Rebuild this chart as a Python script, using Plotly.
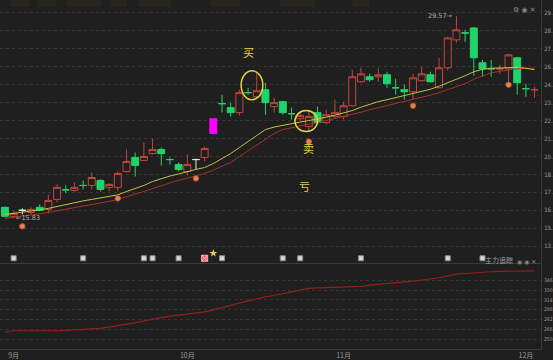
import plotly.graph_objects as go

# ---------------- data ----------------
idx = list(range(62))
opens  = [16.58,15.97,16.38,16.24,16.58,16.44,17.12,17.77,17.73,18.07,18.07,18.41,17.94,17.94,19.02,19.97,19.77,20.24,20.51,19.83,
          19.49,19.02,19.83,19.97,21.60,23.63,23.36,23.02,24.38,24.10,24.58,23.43,23.77,22.95,22.61,22.07,23.02,22.34,22.75,22.75,
          23.49,25.12,25.46,25.46,25.60,24.71,24.58,24.44,25.19,25.60,24.71,26.07,27.97,28.44,28.78,26.41,26.00,26.00,26.00,26.75,
          24.65,24.58]
highs  = [16.65,16.31,16.51,16.58,16.78,17.46,18.14,18.07,18.27,18.41,18.95,18.48,18.21,19.02,20.51,20.31,20.99,21.26,20.65,19.97,
          19.63,20.17,19.90,20.71,22.61,24.24,23.70,24.58,24.71,25.73,25.05,24.04,23.83,23.36,23.02,23.16,23.43,23.22,23.90,23.77,
          25.94,26.07,25.66,26.07,25.80,25.33,24.92,25.66,26.14,25.80,26.75,28.17,29.57,28.65,28.85,26.61,26.61,26.27,27.02,26.82,
          24.99,24.78]
lows   = [15.90,15.83,16.10,16.10,16.31,16.17,16.92,17.53,17.66,17.80,17.80,17.66,17.66,17.66,18.95,18.68,19.77,20.17,19.43,19.49,
          19.02,18.75,19.16,19.70,21.60,23.02,22.75,22.82,24.24,24.10,22.88,23.02,22.88,22.55,22.48,21.80,22.21,22.21,22.68,22.55,
          23.43,25.05,25.12,25.12,24.71,24.24,23.90,23.90,25.12,25.05,24.71,25.87,27.77,27.83,25.53,25.46,25.46,25.66,25.12,24.24,
          24.10,24.04]
closes = [15.97,16.17,16.38,16.44,16.38,17.05,17.94,17.77,17.94,18.07,18.61,17.80,18.14,18.88,19.70,19.43,20.04,20.51,20.24,19.83,
          19.16,19.49,19.83,20.58,22.61,23.63,23.02,24.38,24.38,24.51,23.70,23.70,23.02,22.95,22.82,22.75,22.34,22.88,23.02,23.49,
          25.46,25.66,25.26,25.60,24.99,24.71,24.44,25.39,25.66,25.12,26.07,28.10,28.65,28.44,26.75,26.00,26.00,26.00,26.95,25.05,
          24.65,24.58]
# r = red (up, hollow), g = green (down), w = white doji, m = magenta
kind = ['g','r','w','r','g','r','r','g','r','g','r','g','r','r','r','g','r','r','g','g',
        'g','r','w','r','m','g','g','r','g','r','g','r','g','g','r','r','g','r','r','r',
        'r','r','g','r','g','g','g','r','r','g','r','r','r','g','g','g','g','r','r','g',
        'g','r']

ma_yellow = [16.10,16.17,16.24,16.31,16.41,16.51,16.65,16.78,16.92,17.02,17.12,17.22,17.32,17.43,17.66,17.87,18.07,18.34,18.55,18.71,
             18.85,19.02,19.16,19.29,19.56,19.90,20.24,20.65,21.05,21.46,21.87,22.04,22.17,22.27,22.38,22.48,22.58,22.71,22.85,22.99,
             23.16,23.39,23.60,23.77,23.90,24.04,24.14,24.31,24.44,24.61,24.82,25.05,25.33,25.53,25.80,25.97,26.04,26.07,26.10,26.10,
             26.04,25.94]
ma_red = [15.83,15.90,15.97,16.04,16.14,16.24,16.34,16.44,16.58,16.68,16.78,16.88,16.99,17.12,17.32,17.49,17.66,17.87,18.07,18.24,
          18.41,18.55,18.71,18.88,19.12,19.36,19.63,20.04,20.44,20.85,21.26,21.60,21.87,22.00,22.14,22.24,22.34,22.48,22.61,22.75,
          22.88,23.05,23.22,23.36,23.49,23.63,23.77,23.90,24.04,24.21,24.38,24.58,24.75,24.99,25.29,25.53,25.73,25.83,25.94,26.00,
          26.04,26.04]

main_force = [261.5,263.5,263.5,263.5,263.0,262.5,263.5,264.0,264.5,265.5,266.5,267.5,269.5,271.5,274.5,276.5,279.5,282.5,285.5,287.5,
              289.0,291.0,293.0,294.2,297.5,301.5,305.5,309.0,312.4,315.5,319.0,321.0,324.5,327.0,330.0,332.7,333.5,334.0,334.0,334.2,
              334.5,336.0,337.9,339.0,340.5,341.8,343.0,344.5,346.0,347.8,350.0,353.0,355.8,357.0,358.3,359.0,359.8,360.5,360.8,361.0,
              361.2,361.2]

buy_marks = [2, 13, 22, 35, 47, 58]
buy_mark_price = [15.29, 17.19, 18.55, 21.05, 23.49, 24.92]
signal_white = [1, 9, 16, 17, 20, 25, 32, 34, 41, 51, 55]
signal_red = [23]
signal_star = [24]

price_ticks = [29.80, 28.58, 27.36, 26.14, 24.92, 23.70, 22.48, 21.26, 20.04, 18.82, 17.60, 16.38, 15.16, 13.94]
price_tick_labels = ["29.", "28.", "27.", "26.", "24.", "23.", "22.", "21.", "20.", "18.", "17.", "16.", "15.", "13."]
force_ticks = [250, 266, 282, 298, 314, 330, 346]
force_tick_labels = ["250", "266", "282", "298", "314", "330", "346"]
month_pos = [1, 21, 39, 60]
month_labels = ["9月", "10月", "11月", "12月"]

# ---------------- styling ----------------
BG = "#1f1f1f"
RED = "#c4463f"
GREEN = "#1fd46a"
YEL = "#e6d33e"
GRID = "#363636"
TXT = "#9a9a9a"
NARROW = "Liberation Sans Narrow, DejaVu Sans Condensed, sans-serif"

fig = go.Figure()

styles = {
    'r': dict(line=RED, fill=BG),
    'g': dict(line=GREEN, fill=GREEN),
    'w': dict(line="#e8e8e8", fill="#e8e8e8"),
    'm': dict(line="#ff00ff", fill="#ff00ff"),
}
for k, st in styles.items():
    sel = [i for i in idx if kind[i] == k]
    fig.add_trace(go.Candlestick(
        x=sel,
        open=[opens[i] for i in sel], high=[highs[i] for i in sel],
        low=[lows[i] for i in sel], close=[closes[i] for i in sel],
        increasing=dict(line=dict(color=st['line'], width=1), fillcolor=st['fill']),
        decreasing=dict(line=dict(color=st['line'], width=1), fillcolor=st['fill']),
        whiskerwidth=0, showlegend=False, hoverinfo="skip",
        xaxis="x", yaxis="y"))

fig.add_trace(go.Scatter(x=idx, y=ma_red, mode="lines", line=dict(color="#a8302c", width=1),
                         showlegend=False, hoverinfo="skip", xaxis="x", yaxis="y"))
fig.add_trace(go.Scatter(x=idx, y=ma_yellow, mode="lines", line=dict(color="#c8c03c", width=1),
                         showlegend=False, hoverinfo="skip", xaxis="x", yaxis="y"))

# buy markers under candles
fig.add_trace(go.Scatter(x=buy_marks, y=buy_mark_price, mode="markers",
                         marker=dict(symbol="circle", size=5.5, color="#e8845c",
                                     line=dict(color="#a8502c", width=1)),
                         showlegend=False, hoverinfo="skip", xaxis="x", yaxis="y"))

# signal row
SIG_Y = 13.12
fig.add_trace(go.Scatter(x=signal_white, y=[SIG_Y] * len(signal_white), mode="markers",
                         marker=dict(symbol="square", size=5, color="#d8d8d8", line=dict(color="#8a8a8a", width=1)),
                         showlegend=False, hoverinfo="skip", xaxis="x", yaxis="y"))
fig.add_trace(go.Scatter(x=signal_red, y=[SIG_Y] * len(signal_red), mode="markers",
                         marker=dict(symbol="square-x", size=6, color="#e06262", line=dict(color="#ffb0b0", width=1)),
                         showlegend=False, hoverinfo="skip", xaxis="x", yaxis="y"))
fig.add_trace(go.Scatter(x=signal_star, y=[13.46] * len(signal_star), mode="markers",
                         marker=dict(symbol="star", size=6, color="#f2c94c"),
                         showlegend=False, hoverinfo="skip", xaxis="x", yaxis="y"))

# lower panel
fig.add_trace(go.Scatter(x=idx, y=main_force, mode="lines", line=dict(color="#8e2222", width=1.2),
                         showlegend=False, hoverinfo="skip", xaxis="x2", yaxis="y2"))

H_PLOT = 350.0
split = 1 - 264 / H_PLOT

fig.update_layout(
    width=553, height=360,
    margin=dict(l=0, r=8, t=0, b=10),
    paper_bgcolor=BG, plot_bgcolor=BG,
    boxgap=0.2, boxgroupgap=0,
    font=dict(family="DejaVu Sans", color=TXT, size=7),
    xaxis=dict(domain=[0, 1], range=[-0.572, 61.74], anchor="y", showticklabels=False,
               showgrid=False, zeroline=False, showline=True, linecolor="#3a3a3a",
               rangeslider=dict(visible=False), fixedrange=True),
    xaxis2=dict(domain=[0, 1], range=[-0.572, 61.74], anchor="y2", matches="x",
                tickmode="array", tickvals=month_pos, ticktext=month_labels,
                tickfont=dict(size=7, color=TXT, family="Noto Sans CJK SC"),
                showgrid=False, zeroline=False, showline=True, linecolor="#3a3a3a", ticks=""),
    yaxis=dict(domain=[split, 1], range=[12.78, 30.68], side="right",
               tickmode="array", tickvals=price_ticks, ticktext=price_tick_labels,
               tickfont=dict(size=6, color=TXT, family=NARROW), ticklabelstandoff=1,
               showgrid=True, gridcolor=GRID, griddash="dot",
               zeroline=False, showline=True, linecolor="#3a3a3a", ticks=""),
    yaxis2=dict(domain=[0, split], range=[233.7, 373.7], side="right",
                tickmode="array", tickvals=force_ticks, ticktext=force_tick_labels,
                tickfont=dict(size=5, color=TXT, family=NARROW), ticklabelstandoff=1,
                showgrid=True, gridcolor=GRID, griddash="dot",
                zeroline=False, showline=True, linecolor="#3a3a3a", ticks=""),
    showlegend=False,
)

# ellipses around buy / sell candles
fig.add_shape(type="circle", xref="x", yref="y", x0=27.2, x1=29.7, y0=23.90, y1=25.87,
              line=dict(color=YEL, width=1.5))
fig.add_shape(type="circle", xref="x", yref="y", x0=33.4, x1=36.0, y0=21.73, y1=23.16,
              line=dict(color=YEL, width=1.5))

# faint top header strip
for a, b in [(10, 30), (38, 57), (67, 102), (112, 128), (139, 173), (212, 242), (282, 318), (355, 372)]:
    fig.add_shape(type="rect", xref="paper", yref="paper", x0=a / 545, x1=b / 545,
                  y0=1 - 7 / H_PLOT, y1=1, line=dict(width=0), fillcolor="rgba(60,60,25,0.25)", layer="below")

ann = [
    dict(x=28.0, y=27.16, text="买", font=dict(size=11, color=YEL, family="Noto Sans CJK SC")),
    dict(x=35.0, y=20.65, text="卖", font=dict(size=11, color=YEL, family="Noto Sans CJK SC")),
    dict(x=34.5, y=18.00, text="亏", font=dict(size=11, color=YEL, family="Noto Sans CJK SC")),
]
for a in ann:
    fig.add_annotation(xref="x", yref="y", showarrow=False, **a)
fig.add_annotation(xref="x", yref="y", x=51.8, y=29.57, text="29.57→", showarrow=False,
                   xanchor="right", font=dict(size=6.5, color="#b0b0b0"))
fig.add_annotation(xref="x", yref="y", x=1.0, y=15.83, text="←15.83", showarrow=False,
                   xanchor="left", font=dict(size=6.5, color="#b0b0b0"))
fig.add_annotation(xref="paper", yref="paper", x=519 / 545, y=1 - 268 / H_PLOT, text="主力追踪",
                   showarrow=False, xanchor="right", font=dict(size=7, color="#a0a0a0", family="Noto Sans CJK SC"))
fig.add_annotation(xref="paper", yref="paper", x=542 / 545, y=1 - 268 / H_PLOT, text="◉ ◉ ✕",
                   showarrow=False, xanchor="right", font=dict(size=6, color="#8a8a8a"))
fig.add_annotation(xref="paper", yref="paper", x=542 / 545, y=1 - 4 / H_PLOT, text="⚙ ◉ ✕",
                   showarrow=False, xanchor="right", font=dict(size=7, color="#8a8a8a"))

fig.write_html("out.html", config={"displayModeBar": False},
               post_script="document.body.style.margin='0';document.body.style.overflow='hidden';")
